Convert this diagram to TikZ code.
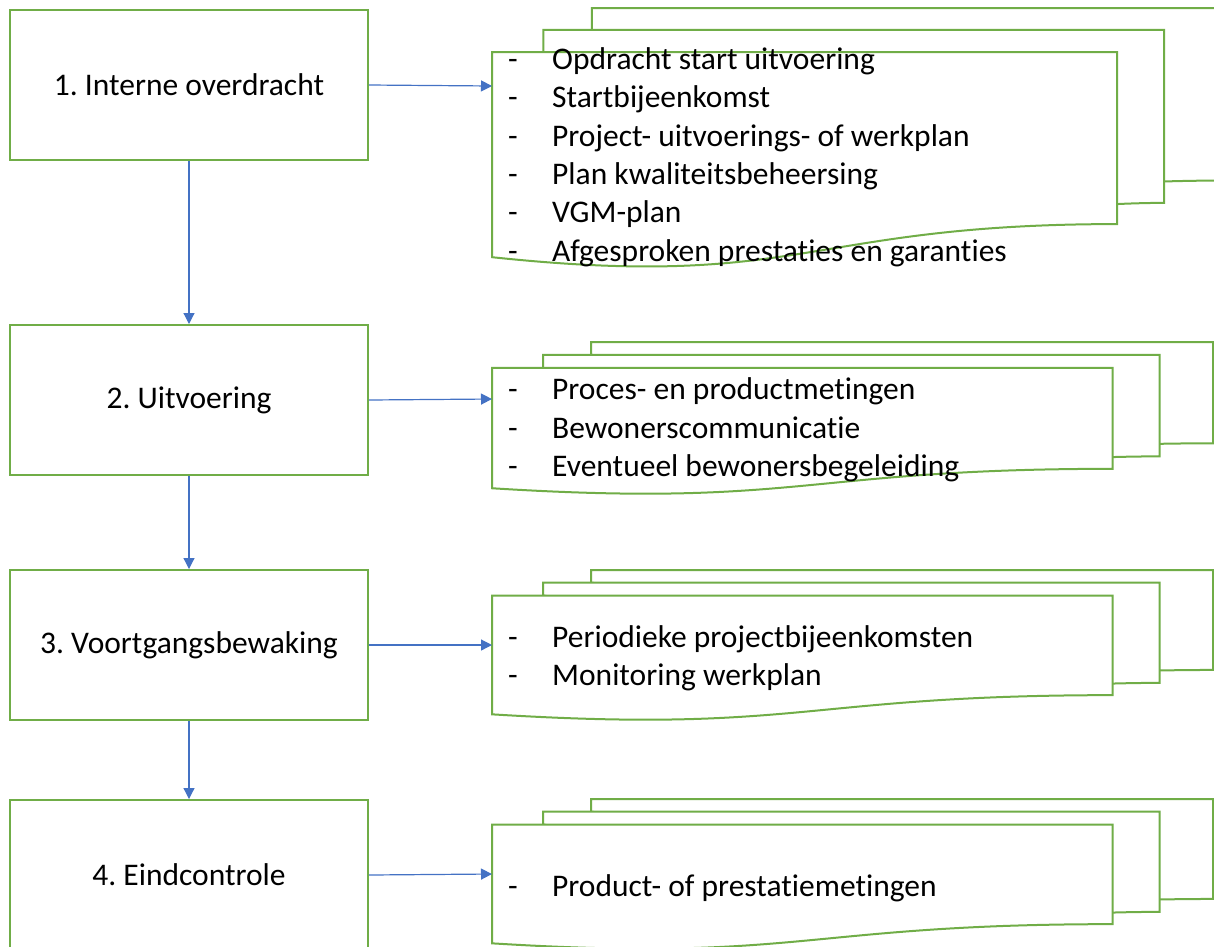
\documentclass[tikz,border=0pt]{standalone}
\usepackage{fontspec}
\setmainfont{Carlito}[Ligatures=NoCommon]
\usetikzlibrary{arrows.meta}

\definecolor{docgreen}{HTML}{70AD47}
\definecolor{flowblue}{HTML}{4472C4}

\begin{document}
\frenchspacing
\begin{tikzpicture}[x=1pt, y=-1pt, >={Triangle[length=11pt, width=11pt]},
	stepbox/.style={draw=docgreen, line width=2pt, fill=white, minimum width=358pt, minimum height=150pt, font=\fontsize{31.5}{38.4}\selectfont},
	page/.style={draw=docgreen, line width=2pt, fill=white, line join=miter},
	flow/.style={->, draw=flowblue, line width=1.2pt},
	items/.style={anchor=west, align=left, inner sep=0pt, font=\fontsize{31.5}{38.4}\selectfont}]
	\useasboundingbox (0,0) rectangle (1214,946);
	\clip (0,0) rectangle (1214,946);
	% stacks of pages, back to front
	\foreach \t/\h/\w in {8/259/726, 342/152/721, 570/150/721, 799/150/721}{
		\draw[page] ({492+0.1376*\w},{\t+0.0840*\h}) -- ({492+0.1376*\w},\t) -- ({492+\w},\t) -- ({492+\w},{\t+0.6663*\h})
			.. controls ({492+0.9630*\w},{\t+0.6663*\h}) and ({492+0.9259*\w},{\t+0.6698*\h}) .. ({492+0.9259*\w},{\t+0.6698*\h}) -- cycle;
		\draw[page] ({492+0.0709*\w},{\t+0.1701*\h}) -- ({492+0.0709*\w},{\t+0.0840*\h}) -- ({492+0.9259*\w},{\t+0.0840*\h}) -- ({492+0.9259*\w},{\t+0.7524*\h})
			.. controls ({492+0.8934*\w},{\t+0.7524*\h}) and ({492+0.8609*\w},{\t+0.7570*\h}) .. ({492+0.8609*\w},{\t+0.7570*\h}) -- cycle;
		\draw[page] (492,{\t+0.9621*\h}) .. controls ({492+0.4305*\w},{\t+1.0899*\h}) and ({492+0.4305*\w},{\t+0.8343*\h}) .. ({492+0.8609*\w},{\t+0.8343*\h})
			-- ({492+0.8609*\w},{\t+0.1701*\h}) -- (492,{\t+0.1701*\h}) -- cycle;
	}
	\coordinate (d1) at (492,86);
	\coordinate (d2) at (492,399);
	\coordinate (d3) at (492,645);
	\coordinate (d4) at (492,874);
	% lists
	\node[items] (l1) at (508,157) {\makebox[44pt][l]{-}Opdracht start uitvoering\\
		\makebox[44pt][l]{-}Startbijeenkomst\\
		\makebox[44pt][l]{-}Project- uitvoerings- of werkplan\\
		\makebox[44pt][l]{-}Plan kwaliteitsbeheersing\\
		\makebox[44pt][l]{-}VGM-plan\\
		\makebox[44pt][l]{-}Afgesproken prestaties en garanties};
	\node[items] (l2) at (508,430) {\makebox[44pt][l]{-}Proces- en productmetingen\\
		\makebox[44pt][l]{-}Bewonerscommunicatie\\
		\makebox[44pt][l]{-}Eventueel bewonersbegeleiding};
	\node[items] (l3) at (508,658) {\makebox[44pt][l]{-}Periodieke projectbijeenkomsten\\
		\makebox[44pt][l]{-}Monitoring werkplan};
	\node[items] (l4) at (508,888) {\makebox[44pt][l]{-}Product- of prestatiemetingen};
	% steps
	\node[stepbox] (s1) at (189,85) {1. Interne overdracht};
	\node[stepbox] (s2) at (189,400) {2. Uitvoering};
	\node[stepbox] (s3) at (189,645) {3. Voortgangsbewaking};
	\node[stepbox] (s4) at (189,875) {4. Eindcontrole};
	\foreach \a/\b in {s1/s2, s2/s3, s3/s4}
	\draw[flow] (\a.south) -- (\b.north);
	\foreach \i in {1,...,4}
	\draw[flow] (s\i.east) -- (d\i);
\end{tikzpicture}
\end{document}
